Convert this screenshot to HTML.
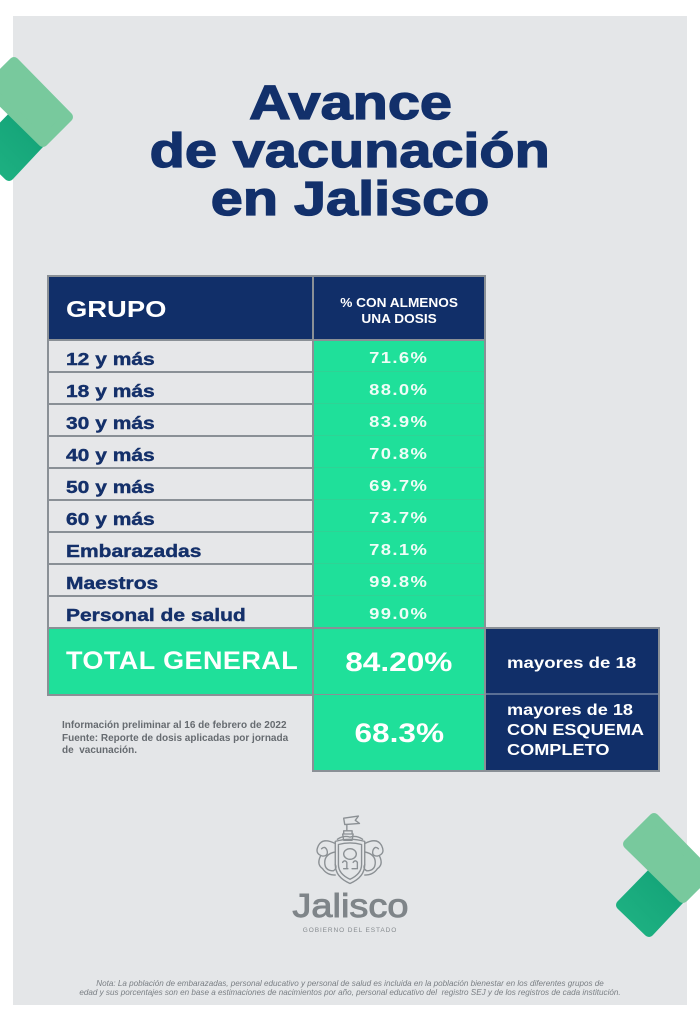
<!DOCTYPE html>
<html><head><meta charset="utf-8">
<style>
*{margin:0;padding:0;box-sizing:border-box}
html,body{width:700px;height:1019px;background:#fff;overflow:hidden;position:relative;font-family:"Liberation Sans",Arial,sans-serif}
.abs{position:absolute}
.card{left:13px;top:16px;width:674px;height:989px;background:#e4e6e8}
.title{left:0;width:700px;text-align:center;font-size:48px;line-height:48px;font-weight:bold;color:#12306b;-webkit-text-stroke:1.3px #12306b}
.title span{display:inline-block;transform:scaleX(1.2);transform-origin:center}
.navy{background:#112f69}
.green{background:#1fe09a}
.cell1{background:#e6e7e9}
.hl{background:#8a9096}
.lbl{left:66px;font-size:17.5px;line-height:32px;font-weight:bold;color:#14306a;-webkit-text-stroke:0.4px #14306a;white-space:nowrap;transform:scaleX(1.2);transform-origin:left center}
.val{left:313px;width:172px;text-align:center;font-size:16px;line-height:32px;font-weight:bold;color:#effdf7;white-space:nowrap}
.val span{display:inline-block;transform:scaleX(1.15);letter-spacing:1.2px}
.wt{color:#fff;font-weight:bold;white-space:nowrap}
</style></head><body>
<div class="abs card"></div>

<!-- chevrons -->
<svg class="abs" style="left:0;top:0" width="700" height="1019" viewBox="0 0 700 1019">
<defs>
<linearGradient id="dg" x1="0" y1="1" x2="1" y2="0">
<stop offset="0" stop-color="#1fb383"/><stop offset="0.6" stop-color="#16a67a"/><stop offset="1" stop-color="#0e8a64"/>
</linearGradient>
</defs>
<g>
<polygon points="27,102 53,129 9,176 -19,149" fill="url(#dg)" stroke="url(#dg)" stroke-width="10" stroke-linejoin="round"/>
<polygon points="14,62 68,117 43,142 -12,88" fill="#78c99d" stroke="#78c99d" stroke-width="10" stroke-linejoin="round"/>
</g>
<g transform="translate(640,756)">
<polygon points="27,102 53,129 9,176 -19,149" fill="url(#dg)" stroke="url(#dg)" stroke-width="10" stroke-linejoin="round"/>
<polygon points="14,62 68,117 43,142 -12,88" fill="#78c99d" stroke="#78c99d" stroke-width="10" stroke-linejoin="round"/>
</g>
</svg>

<!-- title -->
<div class="abs title" style="top:80px"><span>Avance</span></div>
<div class="abs title" style="top:128px"><span>de vacunación</span></div>
<div class="abs title" style="top:176px"><span>en Jalisco</span></div>

<!-- table background / borders -->
<div class="abs hl" style="left:47px;top:275px;width:439px;height:421px"></div>
<div class="abs navy" style="left:49px;top:277px;width:263px;height:62px"></div>
<div class="abs navy" style="left:314px;top:277px;width:170px;height:62px"></div>

<!-- rows -->
<div class="abs cell1" style="left:49px;top:341px;width:263px;height:30px"></div>
<div class="abs cell1" style="left:49px;top:373px;width:263px;height:30px"></div>
<div class="abs cell1" style="left:49px;top:405px;width:263px;height:30px"></div>
<div class="abs cell1" style="left:49px;top:437px;width:263px;height:30px"></div>
<div class="abs cell1" style="left:49px;top:469px;width:263px;height:30px"></div>
<div class="abs cell1" style="left:49px;top:501px;width:263px;height:30px"></div>
<div class="abs cell1" style="left:49px;top:533px;width:263px;height:30px"></div>
<div class="abs cell1" style="left:49px;top:565px;width:263px;height:30px"></div>
<div class="abs cell1" style="left:49px;top:597px;width:263px;height:30px"></div>
<div class="abs green" style="left:314px;top:341px;width:170px;height:286px"></div>
<div class="abs" style="left:314px;top:371px;width:170px;height:1px;background:#3fc58f;opacity:.5"></div>
<div class="abs" style="left:314px;top:403px;width:170px;height:1px;background:#3fc58f;opacity:.5"></div>
<div class="abs" style="left:314px;top:435px;width:170px;height:1px;background:#3fc58f;opacity:.5"></div>
<div class="abs" style="left:314px;top:467px;width:170px;height:1px;background:#3fc58f;opacity:.5"></div>
<div class="abs" style="left:314px;top:499px;width:170px;height:1px;background:#3fc58f;opacity:.5"></div>
<div class="abs" style="left:314px;top:531px;width:170px;height:1px;background:#3fc58f;opacity:.5"></div>
<div class="abs" style="left:314px;top:563px;width:170px;height:1px;background:#3fc58f;opacity:.5"></div>
<div class="abs" style="left:314px;top:595px;width:170px;height:1px;background:#3fc58f;opacity:.5"></div>

<!-- total row -->
<div class="abs green" style="left:49px;top:629px;width:263px;height:65px"></div>
<div class="abs green" style="left:314px;top:629px;width:170px;height:65px"></div>
<!-- second total -->
<div class="abs hl" style="left:312px;top:694px;width:174px;height:78px"></div>
<div class="abs green" style="left:314px;top:695px;width:170px;height:75px"></div>
<!-- navy boxes -->
<div class="abs hl" style="left:484px;top:627px;width:176px;height:145px"></div>
<div class="abs navy" style="left:486px;top:629px;width:172px;height:64px"></div>
<div class="abs navy" style="left:486px;top:695px;width:172px;height:75px"></div>
<div class="abs" style="left:486px;top:693px;width:172px;height:2px;background:#5a6f95"></div>

<!-- header text -->
<div class="abs wt" style="left:66px;top:298px;font-size:23px;line-height:23px;transform:scaleX(1.19);transform-origin:left center">GRUPO</div>
<div class="abs wt" style="left:313px;top:295px;width:172px;text-align:center;font-size:13px;line-height:16.3px"><span style="display:inline-block;transform:scaleX(1.05)">% CON ALMENOS<br>UNA DOSIS</span></div>

<!-- labels -->
<div class="abs lbl" style="top:343px">12 y más</div>
<div class="abs lbl" style="top:375px">18 y más</div>
<div class="abs lbl" style="top:407px">30 y más</div>
<div class="abs lbl" style="top:439px">40 y más</div>
<div class="abs lbl" style="top:471px">50 y más</div>
<div class="abs lbl" style="top:503px">60 y más</div>
<div class="abs lbl" style="top:535px">Embarazadas</div>
<div class="abs lbl" style="top:567px">Maestros</div>
<div class="abs lbl" style="top:599px">Personal de salud</div>

<div class="abs val" style="top:343px"><span>71.6%</span></div>
<div class="abs val" style="top:375px"><span>88.0%</span></div>
<div class="abs val" style="top:407px"><span>83.9%</span></div>
<div class="abs val" style="top:439px"><span>70.8%</span></div>
<div class="abs val" style="top:471px"><span>69.7%</span></div>
<div class="abs val" style="top:503px"><span>73.7%</span></div>
<div class="abs val" style="top:535px"><span>78.1%</span></div>
<div class="abs val" style="top:567px"><span>99.8%</span></div>
<div class="abs val" style="top:599px"><span>99.0%</span></div>

<div class="abs wt" style="left:66px;top:649px;font-size:25px;line-height:25px;letter-spacing:0.4px;transform:scaleX(1.08);transform-origin:left center">TOTAL GENERAL</div>
<div class="abs wt" style="left:313px;top:649px;width:172px;text-align:center;font-size:27px;line-height:27px"><span style="display:inline-block;transform:scaleX(1.17)">84.20%</span></div>
<div class="abs wt" style="left:313px;top:720px;width:172px;text-align:center;font-size:27px;line-height:27px"><span style="display:inline-block;transform:scaleX(1.17)">68.3%</span></div>

<div class="abs wt" style="left:507px;top:655.5px;font-size:15.5px;line-height:16px;transform:scaleX(1.2);transform-origin:left center">mayores de 18</div>
<div class="abs wt" style="left:507px;top:701px;font-size:15.5px;line-height:20px;transform:scaleX(1.17);transform-origin:left center">mayores de 18<br>CON ESQUEMA<br>COMPLETO</div>

<!-- info -->
<div class="abs" style="left:62px;top:720px;font-size:10px;line-height:12.5px;font-weight:bold;color:#666b70;white-space:nowrap;transform:scaleX(1.0);transform-origin:left center">Información preliminar al 16 de febrero de 2022<br>Fuente: Reporte de dosis aplicadas por jornada<br>de&nbsp; vacunación.</div>

<!-- logo -->
<svg class="abs" style="left:312px;top:814px" width="76" height="80" viewBox="0 0 72 76" fill="none" stroke="#8b9094" stroke-width="1.3" stroke-linejoin="round" stroke-linecap="round">
<path d="M30 4 L44 2 L41 6 L45 9 L31 10 Z"/>
<path d="M33 10 L33 16"/>
<path d="M30 16 h8 v3 h-8 z M29 19 h10 l-1 6 h-8 z"/>
<path d="M22 26 Q36 22 50 26 L50 48 Q50 60 36 66 Q22 60 22 48 Z"/>
<path d="M25 29 Q36 26 47 29 L47 48 Q47 57 36 62 Q25 57 25 48 Z"/>
<ellipse cx="36" cy="38" rx="6" ry="5"/>
<path d="M29 46 q2 -3 4 0 v6 M30 52 h4 M39 46 q2 -3 4 0 v6 M38 52 h4"/>
<path d="M22 28 Q10 22 6 30 Q2 38 10 40 Q16 40 14 34 Q12 30 9 33"/>
<path d="M22 36 Q12 38 12 46 Q12 54 20 54 Q24 52 22 48"/>
<path d="M8 40 Q4 48 10 52 M10 52 Q14 58 22 58"/>
<path d="M50 28 Q62 22 66 30 Q70 38 62 40 Q56 40 58 34 Q60 30 63 33"/>
<path d="M50 36 Q60 38 60 46 Q60 54 52 54 Q48 52 50 48"/>
<path d="M64 40 Q68 48 62 52 M62 52 Q58 58 50 58"/>
<path d="M24 24 Q30 20 36 22 Q42 20 48 24"/>
</svg>
<div class="abs" style="left:0;width:700px;top:889px;text-align:center;font-size:33px;line-height:33px;color:#7f8589;-webkit-text-stroke:0.9px #7f8589"><span style="display:inline-block;transform:scaleX(1.15)">Jalisco</span></div>
<div class="abs" style="left:0;width:700px;top:927px;text-align:center;font-size:6.5px;line-height:8px;color:#868b8f;letter-spacing:0.9px">GOBIERNO DEL ESTADO</div>

<!-- footer note -->
<div class="abs" style="left:0;width:700px;top:979px;text-align:center;font-size:8.1px;line-height:9px;font-style:italic;color:#7a7f84;white-space:nowrap">Nota: La población de embarazadas, personal educativo y personal de salud es incluida en la población bienestar en los diferentes grupos de<br>edad y sus porcentajes son en base a estimaciones de nacimientos por año, personal educativo del&nbsp; registro SEJ y de los registros de cada institución.</div>
</body></html>
